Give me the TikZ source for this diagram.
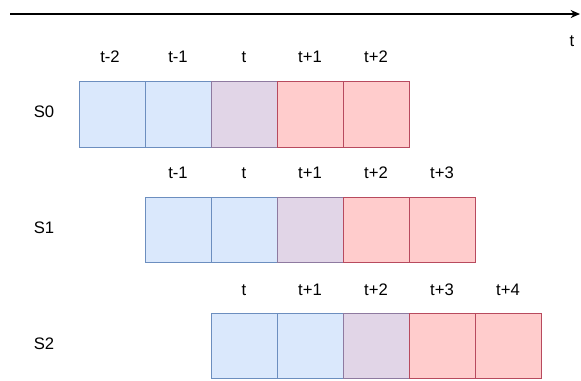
\documentclass[tikz,border=0pt]{standalone}
\usepackage{fontspec}
\setmainfont{Liberation Sans}
\usetikzlibrary{arrows.meta}
\definecolor{bfill}{HTML}{DAE8FC}\definecolor{bdraw}{HTML}{6C8EBF}
\definecolor{pfill}{HTML}{E1D5E7}\definecolor{pdraw}{HTML}{8E7AA0}
\definecolor{rfill}{HTML}{FFCCCC}\definecolor{rdraw}{HTML}{B84A5E}
\tikzset{
  cell/.style={minimum width=66*0.75pt, minimum height=65.5*0.75pt, inner sep=0pt, anchor=north west, line width=0.8pt},
  bcell/.style={cell, fill=bfill, draw=bdraw},
  pcell/.style={cell, fill=pfill, draw=pdraw},
  rcell/.style={cell, fill=rfill, draw=rdraw},
  lab/.style={font=\fontsize{12.5}{14}\selectfont, inner sep=0pt},
}
\begin{document}
\begin{tikzpicture}[x=0.75pt,y=-0.75pt]
\useasboundingbox (0,0) rectangle (581,380);
% time axis
\coordinate (a0) at (10,14);
\coordinate (a1) at (580,14);
\draw[line width=1.1pt,-{Stealth[length=7pt,width=6pt]}] (a0) -- (a1);
\node[lab] (tl) at (572,41) {t};
% row S0
\node[lab] (s0) at (44,112) {S0};
\node[bcell] (c00) at (79,81) {};
\node[bcell] (c01) at (145,81) {};
\node[pcell] (c02) at (211,81) {};
\node[rcell] (c03) at (277,81) {};
\node[rcell] (c04) at (343,81) {};
\node[lab] (l00) at (110,57) {t-2};
\node[lab] (l01) at (178,57) {t-1};
\node[lab] (l02) at (244,57) {t};
\node[lab] (l03) at (310,57) {t+1};
\node[lab] (l04) at (376,57) {t+2};
% row S1
\node[lab] (s1) at (44,228) {S1};
\node[bcell] (c10) at (145,196.5) {};
\node[bcell] (c11) at (211,196.5) {};
\node[pcell] (c12) at (277,196.5) {};
\node[rcell] (c13) at (343,196.5) {};
\node[rcell] (c14) at (409,196.5) {};
\node[lab] (l10) at (178,173) {t-1};
\node[lab] (l11) at (244,173) {t};
\node[lab] (l12) at (310,173) {t+1};
\node[lab] (l13) at (376,173) {t+2};
\node[lab] (l14) at (442,173) {t+3};
% row S2
\node[lab] (s2) at (44,344) {S2};
\node[bcell] (c20) at (211,312.5) {};
\node[bcell] (c21) at (277,312.5) {};
\node[pcell] (c22) at (343,312.5) {};
\node[rcell] (c23) at (409,312.5) {};
\node[rcell] (c24) at (475,312.5) {};
\node[lab] (l20) at (244,290) {t};
\node[lab] (l21) at (310,290) {t+1};
\node[lab] (l22) at (376,290) {t+2};
\node[lab] (l23) at (442,290) {t+3};
\node[lab] (l24) at (508,290) {t+4};
\end{tikzpicture}
\end{document}
